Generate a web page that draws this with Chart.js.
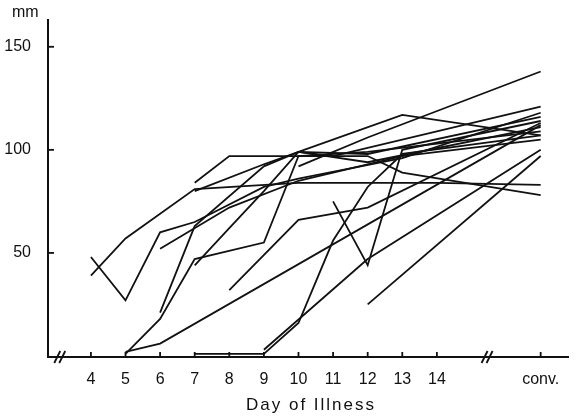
<!DOCTYPE html>
<html>
<head>
<meta charset="utf-8">
<script src="https://cdn.jsdelivr.net/npm/chart.js@4"></script>
<style>
  html, body { margin: 0; padding: 0; background: #fff; }
  #chart { display: block; }
</style>
</head>
<body>
<canvas id="chart" width="576" height="417"></canvas>
<script>
// day ticks on the x axis; "conv." sits after the axis break
const dayTicks = [4, 5, 6, 7, 8, 9, 10, 11, 12, 13, 14];
const convDay = 17;
const mmTicks = [50, 100, 150];

// one array per patient: [day, mm]
const p1 = [[4, 48], [5, 27], [6, 60], [7, 65], [9, 82], [10, 86], [13, 96], [17, 118]];
const p2 = [[4, 39], [5, 57], [7, 81], [10, 84], [14, 84], [17, 83]];
const p3 = [[7, 84], [8, 97], [10, 97], [12, 97], [13, 89], [17, 78]];
const p4 = [[5, 1], [6, 18], [7, 47], [9, 55], [10, 97], [12, 99], [17, 109]];
const p5 = [[5, 2], [6, 6], [17, 112]];
const p6 = [[6, 21], [7, 63], [9, 92], [10, 99], [11, 97], [17, 121]];
const p7 = [[6, 52], [8, 72], [10, 85], [13, 97], [17, 105]];
const p8 = [[7, 44], [8, 62], [9, 80], [10, 99], [12, 98], [17, 116]];
const p9 = [[8, 32], [10, 66], [12, 72], [17, 113]];
const p10 = [[7, 1], [9, 1], [10, 16], [11, 56], [12, 82], [13, 98], [17, 107]];
const p11 = [[10, 92], [12, 106], [17, 138]];
const p12 = [[10, 99], [13, 117], [17, 107]];
const p13 = [[11, 75], [12, 44], [13, 100], [17, 114]];
const p14 = [[9, 3], [12, 47], [17, 100]];
const p15 = [[12, 25], [17, 97]];
const p16 = [[7, 80], [9, 93], [10, 99], [12, 94], [17, 111]];

const patients = [p1, p2, p3, p4, p5, p6, p7, p8, p9, p10, p11, p12, p13, p14, p15, p16];

const ink = '#111';
const font = 'Liberation Sans, Arial, sans-serif';

const extras = {
    id: 'extras',
    afterDraw: function (chart) {
        const ctx = chart.ctx;
        const x = chart.scales.x;
        const y = chart.scales.y;
        const area = chart.chartArea;
        ctx.save();
        ctx.strokeStyle = ink;
        ctx.lineWidth = 1.8;
        // inward ticks
        dayTicks.concat([convDay]).forEach(function (d) {
            const px = x.getPixelForValue(d);
            ctx.beginPath();
            ctx.moveTo(px, area.bottom);
            ctx.lineTo(px, area.bottom - 5);
            ctx.stroke();
        });
        mmTicks.forEach(function (v) {
            const py = y.getPixelForValue(v);
            ctx.beginPath();
            ctx.moveTo(area.left, py);
            ctx.lineTo(area.left + 6, py);
            ctx.stroke();
        });
        // axis breaks
        [3.1, 15.45].forEach(function (d) {
            const px = x.getPixelForValue(d);
            [-2.5, 2.5].forEach(function (o) {
                ctx.beginPath();
                ctx.moveTo(px + o - 3, area.bottom + 6);
                ctx.lineTo(px + o + 3, area.bottom - 6);
                ctx.stroke();
            });
        });
        // texts
        ctx.fillStyle = ink;
        ctx.font = '16px ' + font;
        ctx.textAlign = 'left';
        ctx.textBaseline = 'middle';
        ctx.fillText('mm', 12, 13);
        ctx.font = '17px ' + font;
        ctx.textAlign = 'center';
        ctx.letterSpacing = '2px';
        ctx.fillText('Day of Illness', 311, 405);
        ctx.restore();
    }
};

new Chart(document.getElementById('chart'), {
    type: 'line',
    data: {
        datasets: patients.map(function (p) {
            return {
                data: p.map(function (pt) { return { x: pt[0], y: pt[1] }; }),
                borderColor: ink,
                borderWidth: 1.8,
                pointRadius: 0,
                tension: 0,
                fill: false
            };
        })
    },
    options: {
        responsive: false,
        animation: false,
        devicePixelRatio: 1,
        layout: { padding: { left: 0, right: 8, top: 20, bottom: 0 } },
        plugins: { legend: { display: false }, tooltip: { enabled: false } },
        scales: {
            x: {
                type: 'linear',
                min: 2.76,
                max: 17.79,
                afterFit: function (s) { s.height = 60; },
                afterBuildTicks: function (s) {
                    s.ticks = dayTicks.concat([convDay]).map(function (v) { return { value: v }; });
                },
                grid: { display: false },
                border: { display: true, color: ink, width: 2 },
                ticks: {
                    autoSkip: false,
                    maxRotation: 0,
                    padding: 5,
                    color: ink,
                    font: { family: font, size: 16 },
                    callback: function (v) { return v === convDay ? 'conv.' : v; }
                }
            },
            y: {
                type: 'linear',
                min: -0.5,
                max: 163,
                afterFit: function (s) { s.width = 48; },
                afterBuildTicks: function (s) {
                    s.ticks = mmTicks.map(function (v) { return { value: v }; });
                },
                grid: { display: false },
                border: { display: true, color: ink, width: 2 },
                ticks: {
                    padding: 9,
                    color: ink,
                    font: { family: font, size: 16 }
                }
            }
        }
    },
    plugins: [extras]
});
</script>
</body>
</html>
